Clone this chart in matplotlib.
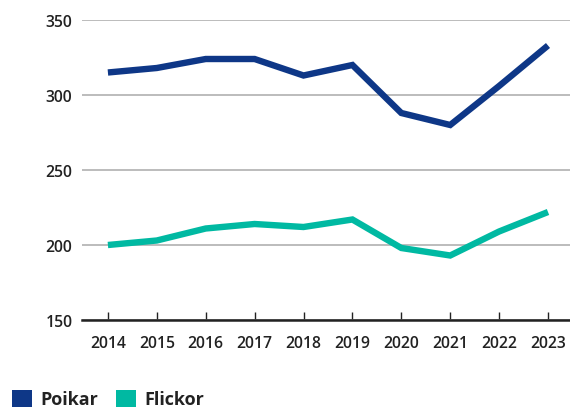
import matplotlib
matplotlib.use("Agg")
import matplotlib.pyplot as plt
from matplotlib.patches import Patch

years = [2014, 2015, 2016, 2017, 2018, 2019, 2020, 2021, 2022, 2023]
poikar = [315, 318, 324, 324, 313, 320, 288, 280, 306, 333]
flickor = [200, 203, 211, 214, 212, 217, 198, 193, 209, 222]
yticks = [150, 200, 250, 300, 350]
series_names = ["Poikar", "Flickor"]
colors = ["#0e3787", "#00b9a2"]

plt.rcParams['font.family'] = ['Open Sans', 'DejaVu Sans']

fig = plt.figure(figsize=(5.7, 4.1), dpi=100)
ax = fig.add_axes([82/570, 1-321/410, 1-82/570, (321-21)/410])

ax.plot(years, poikar, color=colors[0], lw=4.6, solid_joinstyle='miter', solid_capstyle='butt', zorder=3, clip_on=False)
ax.plot(years, flickor, color=colors[1], lw=4.6, solid_joinstyle='miter', solid_capstyle='butt', zorder=3, clip_on=False)

ax.set_xlim(2013.47, 2023.45)
ax.set_ylim(150, 350)
ax.set_yticks(yticks)
ax.set_xticks(years)
ax.set_yticklabels([str(v) for v in yticks])
ax.set_xticklabels([str(y) for y in years])

for s in ['left', 'right', 'top']:
    ax.spines[s].set_visible(False)
ax.spines['bottom'].set_color('#222222')
ax.spines['bottom'].set_linewidth(1.8)
ax.spines['bottom'].set_zorder(4)

ax.yaxis.grid(True, color='#aaaaaa', lw=1.1)
ax.set_axisbelow(True)
ax.tick_params(axis='y', length=0, pad=7, labelsize=11.3, labelcolor='#222222')
ax.tick_params(axis='x', direction='in', length=5.5, width=1, color='#222222', pad=11, labelsize=11.3, labelcolor='#222222')
for lab in ax.get_xticklabels() + ax.get_yticklabels():
    lab.set_fontweight('semibold')

handles = [Patch(facecolor=c, edgecolor='none') for c in colors]
leg = fig.legend(handles, series_names, loc='lower left', bbox_to_anchor=(12/570, 0.5/410),
                 ncol=2, frameon=False, fontsize=13, handlelength=1.1, handleheight=1.1,
                 handletextpad=0.45, columnspacing=1.0, borderpad=0, borderaxespad=0)
for t in leg.get_texts():
    t.set_fontweight('bold')
    t.set_color('#222222')

fig.savefig("out.png", dpi=100)
